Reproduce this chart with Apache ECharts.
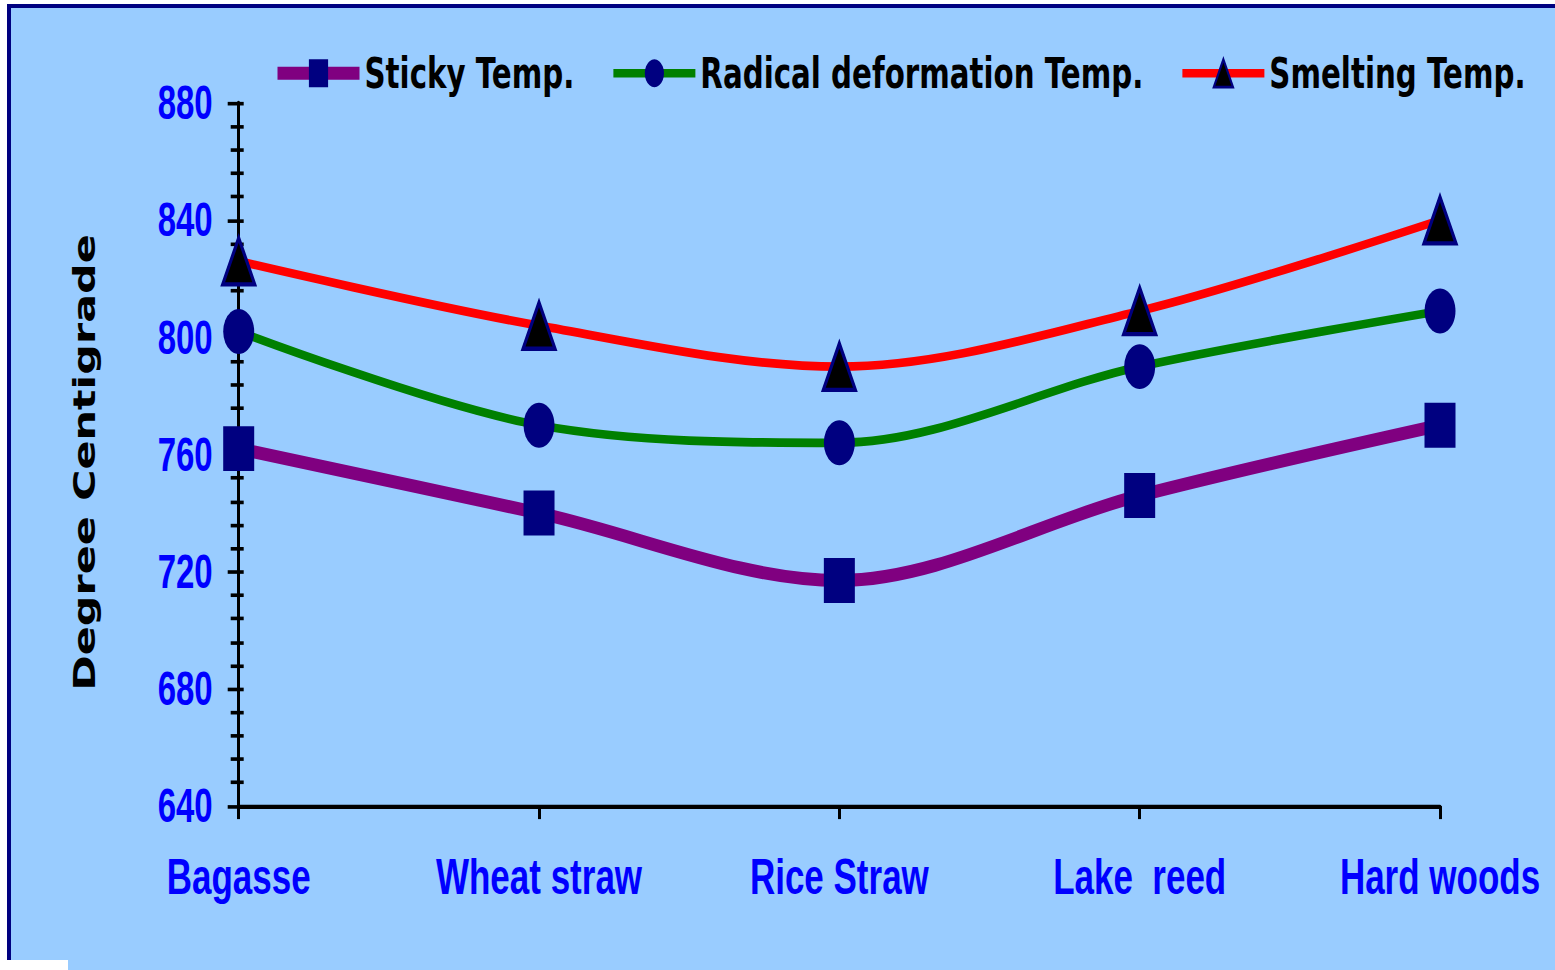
<!DOCTYPE html>
<html>
<head>
<meta charset="utf-8">
<title>Ash fusion temperatures</title>
<script src="https://cdn.jsdelivr.net/npm/echarts@6.0.0/dist/echarts.min.js"></script>
<style>
  html, body { margin: 0; padding: 0; background: #ffffff; width: 1555px; height: 970px; overflow: hidden; }
  #frame { position: absolute; left: 7px; top: 4px; width: 1600px; height: 1000px;
           background: #99CCFF; border-left: 4px solid #000080; border-top: 4px solid #000080; }
  #corner { position: absolute; left: 0; top: 960px; width: 68px; height: 10px; background: #ffffff; }
  /* the plot is laid out in a short box and stretched vertically */
  #chart { position: absolute; left: 0; top: 0; width: 1555px; height: 669px;
           transform: scaleY(1.45); transform-origin: 0 0; }
</style>
</head>
<body>
<div id="frame"></div>
<div id="corner"></div>
<div id="chart"></div>
<script>
// Fuel types along the x axis
const categories = ['Bagasse', 'Wheat straw', 'Rice Straw', 'Lake  reed', 'Hard woods'];

// Ash temperatures, degrees Centigrade
const stickyTemp   = [762, 740, 717, 746, 770];
const radicalTemp  = [802, 770, 764, 790, 809];
const smeltingTemp = [826, 804, 790, 809, 840];

// Value axis range and step
const yMin = 640;
const yMax = 880;
const yStep = 40;

const seriesNames = ['Sticky Temp.', 'Radical deformation Temp.', 'Smelting Temp.'];

const labelFont = 'Liberation Sans, Arial, sans-serif';
const heavyFont = 'DejaVu Sans, Verdana, sans-serif';

const chart = echarts.init(document.getElementById('chart'), null, { renderer: 'svg' });

const commonY = {
  type: 'value',
  min: yMin,
  max: yMax,
  interval: yStep,
  position: 'left',
  splitLine: { show: false }
};

chart.setOption({
  animation: false,
  backgroundColor: 'transparent',
  grid: { left: 238.7, right: 115, top: 71, bottom: 113.1 },
  legend: {
    left: 273,
    top: 36,
    padding: 0,
    itemWidth: 82,
    itemHeight: 24,
    itemGap: 36,
    textStyle: { fontFamily: heavyFont, fontWeight: 'bold', fontSize: 29.3, color: '#000000' },
    data: [
      { name: seriesNames[0], lineStyle: { width: 9 } },
      { name: seriesNames[1], lineStyle: { width: 6 } },
      { name: seriesNames[2], lineStyle: { width: 6 } }
    ]
  },
  xAxis: {
    type: 'category',
    data: categories,
    boundaryGap: false,
    axisLine: { show: true, lineStyle: { color: '#000000', width: 3 } },
    axisTick: { show: true, length: 9, lineStyle: { color: '#000000', width: 3 } },
    axisLabel: {
      margin: 31,
      color: '#0000FF',
      fontFamily: labelFont,
      fontWeight: 'bold',
      fontSize: 35
    },
    splitLine: { show: false }
  },
  yAxis: [
    Object.assign({}, commonY, {
      name: 'Degree Centigrade',
      nameLocation: 'middle',
      nameRotate: 90,
      nameGap: 139,
      nameTextStyle: {
        fontFamily: heavyFont, fontWeight: 'bold', fontSize: 29.6, color: '#000000',
        padding: [0, 11, 0, 0]
      },
      axisLine: { show: true, lineStyle: { color: '#000000', width: 3 } },
      axisTick: { show: true, length: 11, lineStyle: { color: '#000000', width: 2.5 } },
      minorTick: { show: true, splitNumber: 5, length: 8, lineStyle: { color: '#000000', width: 2.5 } },
      axisLabel: {
        margin: 26,
        color: '#0000FF',
        fontFamily: labelFont,
        fontWeight: 'bold',
        fontSize: 33
      }
    }),
    // second copy of the value axis carries the inner half of the crossing ticks
    Object.assign({}, commonY, {
      axisLine: { show: false },
      axisTick: { show: true, inside: true, length: 5, lineStyle: { color: '#000000', width: 2.5 } },
      minorTick: { show: true, splitNumber: 5, length: 5, lineStyle: { color: '#000000', width: 2.5 } },
      axisLabel: { show: false }
    })
  ],
  series: [
    {
      name: seriesNames[0],
      type: 'line',
      yAxisIndex: 0,
      data: stickyTemp,
      smooth: 0.33,
      symbol: 'rect',
      symbolSize: 31,
      lineStyle: { color: '#800080', width: 9 },
      itemStyle: { color: '#000080' }
    },
    {
      name: seriesNames[1],
      type: 'line',
      yAxisIndex: 0,
      data: radicalTemp,
      smooth: 0.33,
      symbol: 'circle',
      symbolSize: 31,
      lineStyle: { color: '#008000', width: 6 },
      itemStyle: { color: '#000080' }
    },
    {
      name: seriesNames[2],
      type: 'line',
      yAxisIndex: 0,
      data: smeltingTemp,
      smooth: 0.33,
      symbol: 'triangle',
      symbolSize: 32,
      lineStyle: { color: '#FF0000', width: 6 },
      itemStyle: { color: '#000000', borderColor: '#000080', borderWidth: 3 }
    }
  ]
});
</script>
</body>
</html>
